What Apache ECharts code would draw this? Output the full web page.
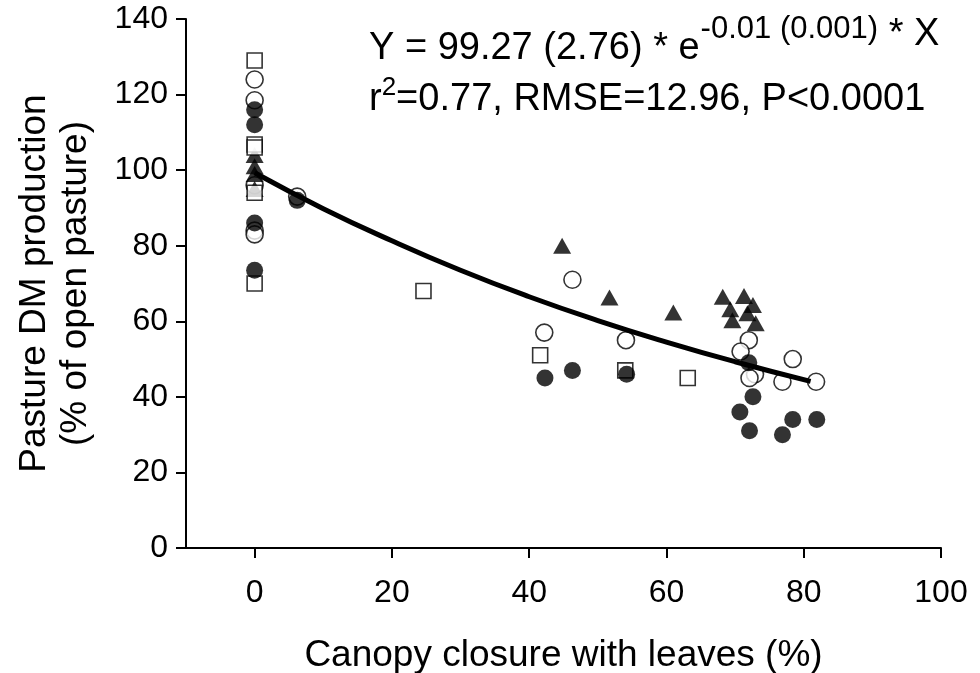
<!DOCTYPE html>
<html>
<head>
<meta charset="utf-8">
<script src="https://cdn.jsdelivr.net/npm/echarts@6/dist/echarts.min.js"></script>
<style>
html,body{margin:0;padding:0;background:#fff;}
#chart{width:980px;height:673px;}
</style>
</head>
<body>
<div id="chart"></div>
<script>
// ---- data ----
const xTicks = [0, 20, 40, 60, 80, 100];
const yTicks = [0, 20, 40, 60, 80, 100, 120, 140];

const filledCircles = [
  [0, 116], [0, 112], [0, 86], [0, 73.5], [6.2, 92],
  [42.3, 45], [46.3, 47], [54.2, 46],
  [72.0, 49], [72.6, 40], [70.7, 36], [72.1, 31], [76.9, 30], [78.4, 34], [81.9, 34]
];
const openCircles = [
  [0, 124], [0, 118.5], [0, 96], [0, 84], [0, 83], [6.2, 93],
  [46.3, 71], [42.2, 57], [54.1, 55],
  [72.0, 55], [70.8, 52], [72.9, 46], [72.1, 45], [78.4, 50], [76.9, 44], [81.8, 44]
];
const openSquares = [
  [0, 129], [0, 106.8], [0, 106], [0, 94], [0, 70],
  [24.6, 68], [41.6, 51], [54.0, 47], [63.1, 45]
];
const filledTriangles = [
  [0, 104], [0, 101], [0, 99], [0, 95],
  [44.8, 80], [51.7, 66.3], [61.0, 62.3],
  [68.2, 66.5], [71.3, 66.7], [69.3, 63.2], [72.6, 64.3], [71.8, 62.1], [69.6, 60.3], [73.0, 59.5]
];
// fitted curve as drawn: Y = 99.27 * e^(-0.01 X)
const fitX = [0, 10, 20, 30, 40, 50, 60, 70, 81];
const fitY = [99.3, 89.8, 81.3, 73.5, 66.5, 60.2, 54.5, 49.3, 44.1];

const FONT = '"Liberation Sans", Arial, Helvetica, sans-serif';

const chart = echarts.init(document.getElementById('chart'), null, {renderer: 'canvas'});

function measure(text, size) {
  const c = document.createElement('canvas').getContext('2d');
  c.font = size + 'px ' + FONT;
  return c.measureText(text).width;
}

// equation layout (text only)
const eqX = 369;
const mainFs = 38, supFs = 31, sup2Fs = 26;
const partA = 'Y = 99.27 (2.76) * e';
const partB = '-0.01 (0.001)';
const partC = ' * X';
const wA = measure(partA, mainFs);
const wB = measure(partB, supFs);
const l2a = 'r';
const l2b = '2';
const l2c = '=0.77, RMSE=12.96, P<0.0001';
const wr = measure(l2a, mainFs);
const w2 = measure(l2b, sup2Fs);

function txt(x, y, text, size) {
  return {
    type: 'text', x: x, y: y, silent: true,
    style: {text: text, font: size + 'px ' + FONT, fill: '#000', textAlign: 'left', textVerticalAlign: 'bottom', verticalAlign: 'bottom'}
  };
}

const fitData = fitX.map((x, i) => [x, fitY[i]]);

const markerBase = {type: 'scatter', animation: false};

chart.setOption({
  animation: false,
  backgroundColor: '#fff',
  grid: {left: 186, right: 39, top: 19, bottom: 125, containLabel: false, outerBoundsMode: 'none'},
  xAxis: {
    type: 'value', min: -10, max: 100,
    name: 'Canopy closure with leaves (%)',
    nameLocation: 'middle', nameGap: 89,
    nameTextStyle: {fontSize: 37, fontFamily: FONT, color: '#000'},
    axisLine: {show: true, onZero: false, lineStyle: {color: '#000', width: 2}},
    axisTick: {show: true, inside: false, length: 10, lineStyle: {color: '#000', width: 2}, customValues: xTicks},
    axisLabel: {show: true, fontSize: 32, fontFamily: FONT, color: '#000', margin: 29, customValues: xTicks},
    splitLine: {show: false}
  },
  yAxis: {
    type: 'value', min: 0, max: 140, interval: 20,
    name: 'Pasture DM production\n(% of open pasture)',
    nameLocation: 'middle', nameGap: 90, nameRotate: 90,
    nameTextStyle: {fontSize: 37, fontFamily: FONT, color: '#000', lineHeight: 41},
    axisLine: {show: true, onZero: false, lineStyle: {color: '#000', width: 2}},
    axisTick: {show: true, inside: false, length: 10, lineStyle: {color: '#000', width: 2}, customValues: yTicks},
    axisLabel: {show: true, fontSize: 32, fontFamily: FONT, color: '#000', margin: 18, customValues: yTicks},
    splitLine: {show: false}
  },
  series: [
    Object.assign({}, markerBase, {
      name: 'open circles', data: openCircles, symbol: 'circle', symbolSize: 17, z: 2,
      itemStyle: {color: '#fff', borderColor: '#000', borderWidth: 1.6}
    }),
    Object.assign({}, markerBase, {
      name: 'triangles', data: filledTriangles, symbol: 'triangle', symbolSize: [18, 16], z: 3,
      itemStyle: {color: '#000', borderColor: '#000', borderWidth: 0}
    }),
    Object.assign({}, markerBase, {
      name: 'squares', data: openSquares, symbol: 'rect', symbolSize: 15, z: 4,
      itemStyle: {color: '#fff', borderColor: '#000', borderWidth: 1.6}
    }),
    Object.assign({}, markerBase, {
      name: 'filled circles', data: filledCircles, symbol: 'circle', symbolSize: 17, z: 5,
      itemStyle: {color: '#000', borderColor: '#000', borderWidth: 0}
    }),
    {
      name: 'fit', type: 'line', data: fitData, smooth: true, showSymbol: false, symbol: 'none', z: 6,
      lineStyle: {color: '#000', width: 5}, animation: false
    }
  ],
  graphic: [
    txt(eqX, 68, partA, mainFs),
    txt(eqX + wA + 1, 45, partB, supFs),
    txt(eqX + wA + 1 + wB, 54, partC, mainFs),
    txt(eqX, 119, l2a, mainFs),
    txt(eqX + wr, 101, l2b, sup2Fs),
    txt(eqX + wr + w2, 119, l2c, mainFs)
  ]
});
</script>
</body>
</html>
